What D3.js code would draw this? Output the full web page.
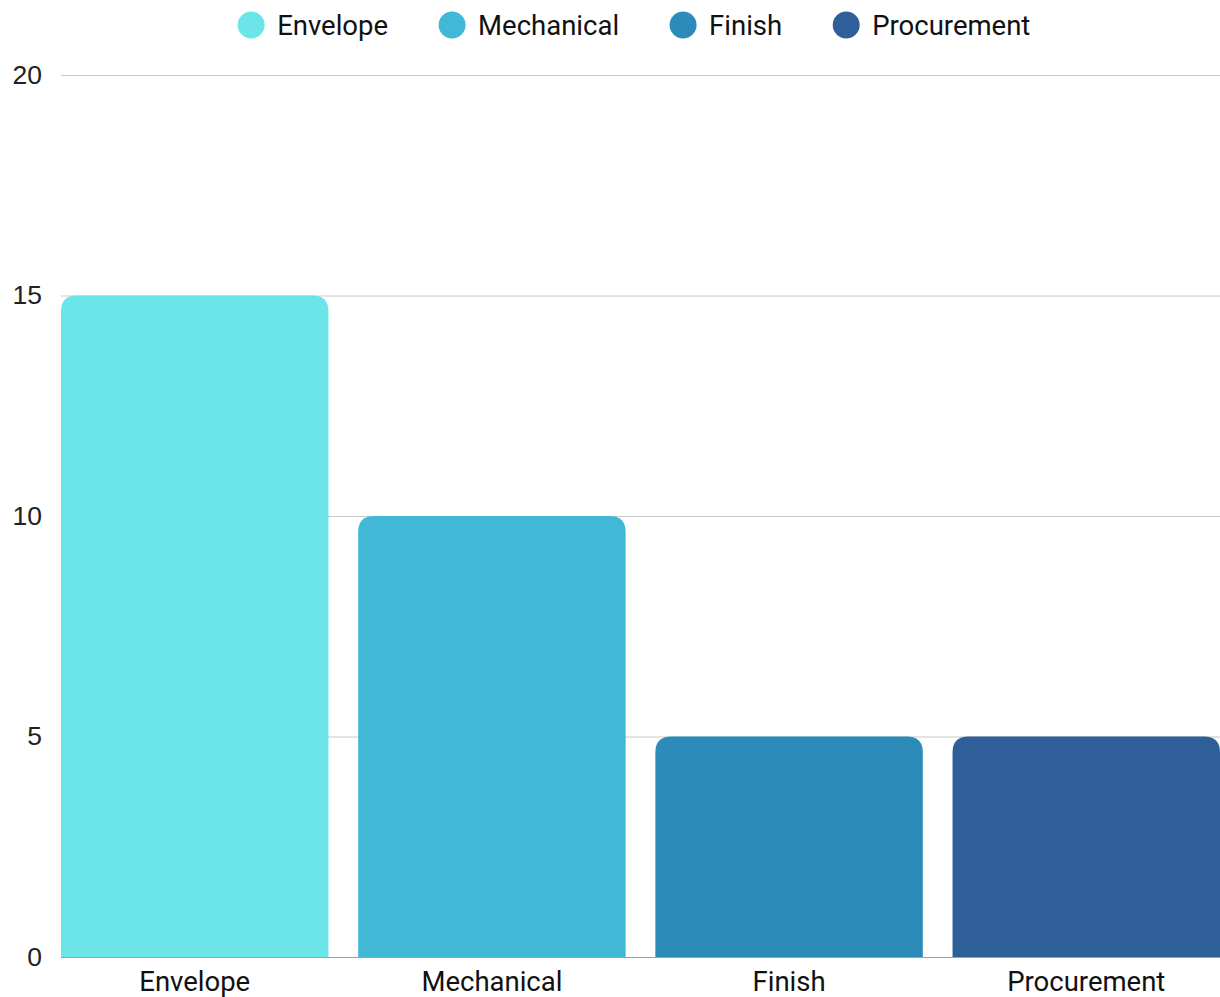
<!DOCTYPE html>
<html>
<head>
<meta charset="utf-8">
<script src="https://cdn.jsdelivr.net/npm/d3@7"></script>
<style>
  html, body { margin: 0; padding: 0; background: #fff; }
  svg { display: block; }
</style>
</head>
<body>
<svg id="chart" width="1220" height="997"></svg>
<script>
// Work categories and their counts
const categories = ["Envelope", "Mechanical", "Finish", "Procurement"];
const values = [15, 10, 5, 5];
const colors = ["#6ce5e8", "#41b8d5", "#2d8bba", "#2f5f98"];
const yTicks = [0, 5, 10, 15, 20];

const W = 1220, H = 997;
const margin = { top: 75, right: 0, bottom: 40, left: 61 };
const svg = d3.select("#chart");

const x = d3.scaleBand()
  .domain(categories)
  .range([margin.left, W - margin.right])
  .paddingInner(0.1)
  .paddingOuter(0);

const y = d3.scaleLinear()
  .domain([0, 20])
  .range([H - margin.bottom, margin.top]);

// Horizontal grid lines
svg.append("g")
  .selectAll("line")
  .data(yTicks.filter(d => d !== 0))
  .join("line")
  .attr("x1", margin.left)
  .attr("x2", W - margin.right)
  .attr("y1", d => y(d) + 0.5)
  .attr("y2", d => y(d) + 0.5)
  .attr("stroke", "#c8c8c8")
  .attr("stroke-width", 1);

// Y axis labels
const yAxis = d3.axisLeft(y).tickValues(yTicks).tickSize(0).tickPadding(0);
const gy = svg.append("g")
  .attr("transform", `translate(${margin.left - 19},0)`)
  .call(yAxis);
gy.select(".domain").remove();
gy.selectAll("text")
  .attr("font-family", "'Liberation Sans', Arial, sans-serif")
  .attr("font-size", 26.5)
  .attr("fill", "#222");

// Bars with rounded top corners
const r = 16;
function barPath(x0, y0, w, h) {
  const rr = Math.min(r, w / 2, h);
  return `M${x0},${y0 + h}` +
    `V${y0 + rr}` +
    `Q${x0},${y0} ${x0 + rr},${y0}` +
    `H${x0 + w - rr}` +
    `Q${x0 + w},${y0} ${x0 + w},${y0 + rr}` +
    `V${y0 + h}Z`;
}

svg.append("g")
  .selectAll("path")
  .data(categories.map((c, i) => ({ c, v: values[i], col: colors[i] })))
  .join("path")
  .attr("d", d => barPath(x(d.c), y(d.v), x.bandwidth(), y(0) - y(d.v)))
  .attr("fill", d => d.col);

// Baseline
svg.append("line")
  .attr("x1", margin.left)
  .attr("x2", W - margin.right)
  .attr("y1", y(0) + 0.5)
  .attr("y2", y(0) + 0.5)
  .attr("stroke", "#a0a0a0")
  .attr("stroke-width", 1);

// X axis labels
const xAxis = d3.axisBottom(x).tickSize(0).tickPadding(0);
const gx = svg.append("g")
  .attr("transform", `translate(0,${y(0)})`)
  .call(xAxis);
gx.select(".domain").remove();
gx.selectAll("text")
  .attr("dy", null)
  .attr("y", 34)
  .attr("font-family", "Roboto, 'Noto Sans', sans-serif")
  .attr("font-size", 27.5)
  .attr("fill", "#111");

// Legend
const legend = svg.append("g");
const items = legend.selectAll("g")
  .data(categories.map((c, i) => ({ c, col: colors[i] })))
  .join("g");
items.append("circle")
  .attr("r", 13.5)
  .attr("cy", 25)
  .attr("fill", d => d.col);
items.append("text")
  .attr("y", 25)
  .attr("dy", "0.35em")
  .attr("font-family", "Roboto, 'Noto Sans', sans-serif")
  .attr("font-size", 27.5)
  .attr("fill", "#111")
  .text(d => d.c);

let cx = 0;
const gapText = 12.5, gapItem = 50.5;
items.each(function () {
  const g = d3.select(this);
  const tw = g.select("text").node().getComputedTextLength();
  g.select("circle").attr("cx", cx + 13.5);
  g.select("text").attr("x", cx + 27 + gapText);
  cx += 27 + gapText + tw + gapItem;
});
const total = cx - gapItem;
legend.attr("transform", `translate(${634 - total / 2},0)`);
</script>
</body>
</html>
